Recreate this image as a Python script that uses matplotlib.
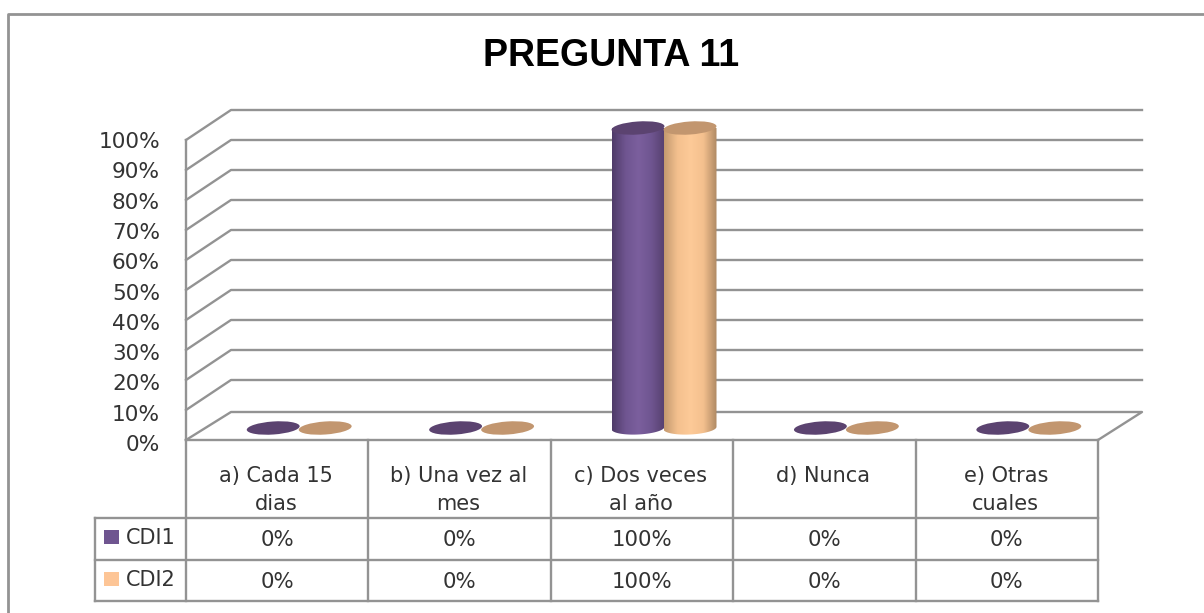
"""PREGUNTA 11: 3D-look cylinder chart with a data table below it."""

import matplotlib

matplotlib.use("Agg")
import matplotlib.pyplot as plt
import numpy as np
from matplotlib.colors import LinearSegmentedColormap
from matplotlib.patches import Ellipse, PathPatch
from matplotlib.path import Path

title = "PREGUNTA 11"
categories = ["a) Cada 15\ndias", "b) Una vez al\nmes", "c) Dos veces\nal año", "d) Nunca", "e) Otras\ncuales"]
series_names = ["CDI1", "CDI2"]
cdi1 = [0, 0, 100, 0, 0]
cdi2 = [0, 0, 100, 0, 0]
y_ticks = [0, 10, 20, 30, 40, 50, 60, 70, 80, 90, 100]

GRID = "#939393"
TEXT = "#333333"
LABEL_FONT = "DejaVu Sans"

# plot geometry, in image pixels
FRONT_LEFT, FRONT_RIGHT = 186, 1098
DEPTH_X, DEPTH_Y = 45, 28
FRONT_ZERO, FRONT_FULL = 440, 140
TABLE_LEFT = 95
TABLE_ROWS = [518, 560, 601]
CYL_W, CYL_H = 53, 13
PURPLE_SHIFT, TAN_SHIFT = -4, 48
BASE_OFFSET = 12


def front_y(v):
    return FRONT_ZERO - (FRONT_ZERO - FRONT_FULL) * v / 100


def draw_cylinder(ax, cx, value, cmap, cap):
    base = front_y(0) - BASE_OFFSET
    top = front_y(value) - BASE_OFFSET
    if value > 0:
        x0, x1 = cx - CYL_W / 2, cx + CYL_W / 2
        t = np.radians(np.linspace(0, 180, 40))
        # body outline: lower half of the base ellipse, then up to the top
        bx = cx - CYL_W / 2 * np.cos(t)
        by = base + CYL_H / 2 * np.sin(t) + 1.2 * np.cos(t)
        verts = list(zip(bx, by)) + [(x1, top), (x0, top), (bx[0], by[0])]
        clip = PathPatch(Path(verts), transform=ax.transData, fc="none", ec="none")
        ax.add_patch(clip)
        grad = np.linspace(0, 1, 64)[None, :]
        im = ax.imshow(grad, cmap=cmap, extent=(x0, x1, base + CYL_H, top),
                       aspect="auto", zorder=3, interpolation="bilinear")
        im.set_clip_path(clip)
    ax.add_patch(Ellipse((cx, top), CYL_W, CYL_H, angle=-4, fc=cap, ec="none", zorder=4))


fig = plt.figure(figsize=(12.04, 6.13), dpi=100)
ax = fig.add_axes((0, 0, 1, 1))
ax.set_xlim(0, 1204)
ax.set_ylim(613, 0)
ax.axis("off")

# chart frame, cut by the image at right and bottom
ax.plot([8, 8, 1204], [613, 14, 14], color=GRID, lw=2)
ax.text(611, 56, title, ha="center", va="center", fontsize=27, fontweight="bold",
        family="Liberation Sans", color="black")

# walls and floor
for v in y_ticks:
    fy = front_y(v)
    if v == 0:
        continue
    ax.plot([FRONT_LEFT, FRONT_LEFT + DEPTH_X, FRONT_RIGHT + DEPTH_X - 1],
            [fy, fy - DEPTH_Y - 2, fy - DEPTH_Y - 2], color=GRID, lw=1.7)
ax.plot([FRONT_LEFT, FRONT_LEFT + DEPTH_X, FRONT_RIGHT + DEPTH_X - 1, FRONT_RIGHT],
        [front_y(0), front_y(0) - DEPTH_Y, front_y(0) - DEPTH_Y, front_y(0)], color=GRID, lw=1.7)
ax.plot([FRONT_LEFT, FRONT_LEFT], [front_y(100), front_y(0)], color=GRID, lw=1.7)

for v in y_ticks:
    ax.text(160, front_y(v) + 5 - 3 * v / 100, f"{v}%", ha="right", va="center", fontsize=15.6,
            family=LABEL_FONT, color=TEXT)

# cylinders
purple_map = LinearSegmentedColormap.from_list("p", ["#4f3b69", "#6f5590", "#7b5f9e", "#6f5590", "#56406f"])
tan_map = LinearSegmentedColormap.from_list("t", ["#c49a70", "#f4c08e", "#fdca98", "#f4c08e", "#b08a64"])
col_w = (FRONT_RIGHT - FRONT_LEFT) / len(categories)
centers = [FRONT_LEFT + col_w * (i + 0.5) for i in range(len(categories))]
for cx, a, b in zip(centers, cdi1, cdi2):
    draw_cylinder(ax, cx + PURPLE_SHIFT, a, purple_map, "#5b4370")
    draw_cylinder(ax, cx + TAN_SHIFT, b, tan_map, "#c2966f")

# data table
for yy in [front_y(0)] + TABLE_ROWS:
    x0 = FRONT_LEFT if yy == front_y(0) else TABLE_LEFT
    ax.plot([x0, FRONT_RIGHT], [yy, yy], color=GRID, lw=1.7, zorder=2)
ax.plot([TABLE_LEFT, TABLE_LEFT], [TABLE_ROWS[0], TABLE_ROWS[-1]], color=GRID, lw=1.7)
for i in range(len(categories) + 1):
    xx = FRONT_LEFT + col_w * i
    ax.plot([xx, xx], [front_y(0), TABLE_ROWS[-1]], color=GRID, lw=1.7)

for cx, name in zip(centers, categories):
    for j, line in enumerate(name.split("\n")):
        ax.text(cx - 1, 476 + 28 * j, line, ha="center", va="center", fontsize=15, family=LABEL_FONT, color=TEXT)

swatches = ["#6f5590", "#fdc596"]
for r, (name, vals, sw) in enumerate(zip(series_names, [cdi1, cdi2], swatches)):
    mid = (TABLE_ROWS[r] + TABLE_ROWS[r + 1]) / 2
    ax.add_patch(plt.Rectangle((104, mid - 9), 15, 14, fc=sw, ec="none"))
    ax.text(126, mid - 1, name, ha="left", va="center", fontsize=15, family=LABEL_FONT, color=TEXT)
    for cx, v in zip(centers, vals):
        ax.text(cx, mid + 1, f"{v}%", ha="center", va="center", fontsize=15.3, family=LABEL_FONT, color=TEXT)

ax.set_xlim(0, 1204)
ax.set_ylim(613, 0)
fig.savefig("out.png", dpi=100, facecolor="white")
